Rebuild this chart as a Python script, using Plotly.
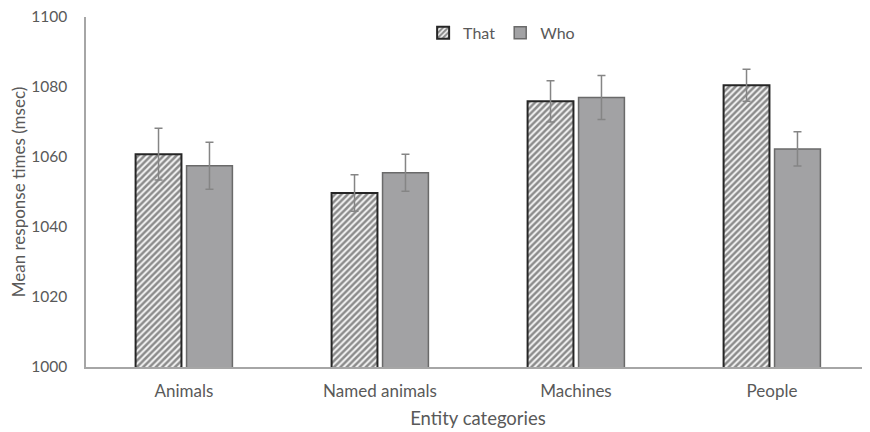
import plotly.graph_objects as go

categories = ["Animals", "Named animals", "Machines", "People"]
that_vals = [1060.8, 1049.7, 1075.9, 1080.5]
that_err = [7.4, 5.2, 5.9, 4.6]
who_vals = [1057.5, 1055.5, 1077.0, 1062.3]
who_err = [6.7, 5.3, 6.3, 4.9]

fig = go.Figure()
fig.add_trace(go.Bar(
    name="That", x=categories, y=that_vals,
    marker=dict(color="white", line=dict(color="#262626", width=2),
                pattern=dict(shape="/", fgcolor="#222222", bgcolor="#f4f4f4", size=4.5, solidity=0.55)),
    error_y=dict(type="data", array=that_err, color="#858585", thickness=1.5, width=4),
))
fig.add_trace(go.Bar(
    name="Who", x=categories, y=who_vals,
    marker=dict(color="#a2a2a4", line=dict(color="#6a6a6a", width=1.5)),
    error_y=dict(type="data", array=who_err, color="#858585", thickness=1.5, width=4),
))

fig.update_layout(
    width=862, height=424,
    margin=dict(l=78, r=0, t=9, b=65),
    paper_bgcolor="white", plot_bgcolor="white",
    barmode="group", bargap=0.48, bargroupgap=0.1,
    font=dict(family="Lato, Open Sans, sans-serif", color="#595959", size=16),
    legend=dict(orientation="h", x=0.43, xanchor="left", y=0.955, yanchor="middle",
                font=dict(size=16, color="#595959"), itemwidth=30, traceorder="normal",
                tracegroupgap=0),
    xaxis=dict(showline=True, linecolor="#a6a6a6", linewidth=1.5, ticks="",
               automargin=False, ticklabelstandoff=8, ticklabeloverflow="allow",
               title=dict(text="Entity categories", font=dict(size=18.5), standoff=12),
               tickfont=dict(size=17)),
    yaxis=dict(range=[1000, 1100], dtick=20, showgrid=False, zeroline=False,
               automargin=False, ticklabelstandoff=14, ticklabeloverflow="allow",
               showline=True, linecolor="#a6a6a6", linewidth=1.5, ticks="",
               title=dict(text="Mean response times (msec)", font=dict(size=17), standoff=3),
               tickfont=dict(size=15.5)),
)

fig.write_html("out.html")
